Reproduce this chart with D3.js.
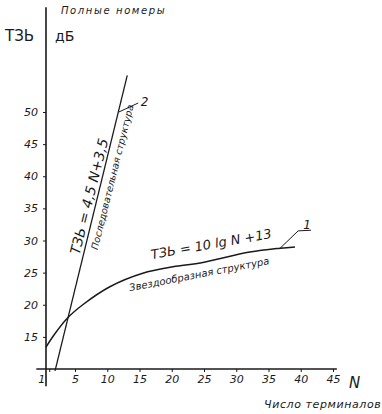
<!DOCTYPE html>
<html>
<head>
<meta charset="utf-8">
<script src="https://cdn.jsdelivr.net/npm/d3@7"></script>
<style>
  body { margin: 0; background: #fff; }
  text { font-family: "DejaVu Sans", sans-serif; font-style: italic; fill: #1a1a1a; }
</style>
</head>
<body>
<div id="chart"></div>
<script>
// data
let X_TICKS = [1, 5, 10, 15, 20, 25, 30, 35, 40, 45]
let Y_TICKS = [15, 20, 25, 30, 35, 40, 45, 50]

// curve 1: star-shaped structure
let STAR_N = [0.5, 1.6, 3.8, 6.2, 10.4, 15.5, 20.2, 24.4, 32.1, 36.8, 39.1]
let STAR_T = [13.4, 15.1, 17.9, 20.0, 22.8, 24.9, 25.9, 26.5, 28.2, 28.8, 29.0]

// line 2: sequential structure
let SEQ_N = [1.9, 13.1]
let SEQ_T = [9.7, 55.7]

let width = 382, height = 414

let svg = d3.select("#chart")
    .append("svg")
    .attr("width", width)
    .attr("height", height)

let x = d3.scaleLinear().domain([0.5, 45]).range([46, 333])
let y = d3.scaleLinear().domain([10, 50]).range([369, 112])

let ink = "#1a1a1a"

// axis lines (drawn a bit past the plot, like on paper)
svg.append("line")
    .attr("x1", x(0.5)).attr("x2", x(0.5))
    .attr("y1", y(66.3)).attr("y2", y(7.3))
    .attr("stroke", ink).attr("stroke-width", 1.6)
svg.append("line")
    .attr("x1", x(-1)).attr("x2", x(45.6))
    .attr("y1", y(10)).attr("y2", y(10))
    .attr("stroke", ink).attr("stroke-width", 1.4)

// x ticks
let xAxis = svg.append("g")
    .attr("transform", "translate(0," + y(10) + ")")
    .call(d3.axisBottom(x).tickValues(X_TICKS).tickSize(3).tickSizeOuter(0))
xAxis.select(".domain").remove()
xAxis.selectAll("line").attr("stroke", ink)
xAxis.selectAll("text")
    .style("font-size", "11px")
    .attr("y", 6)
    .attr("dx", function (d) { return d == 1 ? -8 : 0 })

// y ticks
let yAxis = svg.append("g")
    .attr("transform", "translate(" + x(0.5) + ",0)")
    .call(d3.axisLeft(y).tickValues(Y_TICKS).tickSize(3).tickSizeOuter(0))
yAxis.select(".domain").remove()
yAxis.selectAll("line").attr("stroke", ink)
yAxis.selectAll("text")
    .style("font-size", "11px")
    .attr("x", -8)

// curves
let line = d3.line()
    .x(function (d) { return x(d[0]) })
    .y(function (d) { return y(d[1]) })
    .curve(d3.curveCatmullRom)

svg.append("path")
    .attr("d", line(STAR_N.map(function (n, i) { return [n, STAR_T[i]] })))
    .attr("fill", "none").attr("stroke", ink).attr("stroke-width", 1.5)

svg.append("path")
    .attr("d", line(SEQ_N.map(function (n, i) { return [n, SEQ_T[i]] })))
    .attr("fill", "none").attr("stroke", ink).attr("stroke-width", 1.3)

// leaders and curve numbers
let leaders = [
    { p: [[36.8, 28.8], [39.6, 31.5], [41.6, 31.6]], label: "1", at: [40.4, 31.8] },
    { p: [[11.8, 50], [14.8, 51.4]], label: "2", at: [15.2, 50.9] }
]
leaders.forEach(function (l) {
    svg.append("path")
        .attr("d", d3.line().x(function (d) { return x(d[0]) }).y(function (d) { return y(d[1]) })(l.p))
        .attr("fill", "none").attr("stroke", ink).attr("stroke-width", 1)
    svg.append("text")
        .attr("x", x(l.at[0])).attr("y", y(l.at[1]))
        .style("font-size", "12px")
        .text(l.label)
})

// formulas along the lines
svg.append("text")
    .attr("transform", "translate(" + x(5.7) + "," + y(27.7) + ") rotate(-76)")
    .style("font-size", "14px")
    .text("ТЗЬ = 4,5 N+3,5")
svg.append("text")
    .attr("transform", "translate(" + x(8.5) + "," + y(28.5) + ") rotate(-76)")
    .style("font-size", "9.5px")
    .text("Последовательная структура")

svg.append("text")
    .attr("transform", "translate(" + x(16.9) + "," + y(27.1) + ") rotate(-10)")
    .style("font-size", "13px")
    .text("ТЗЬ = 10 lg N +13")
svg.append("text")
    .attr("transform", "translate(" + x(13.5) + "," + y(22.1) + ") rotate(-11)")
    .style("font-size", "10px")
    .text("Звездообразная структура")

// titles
svg.append("text").attr("x", 61).attr("y", 14)
    .style("font-size", "10px").style("letter-spacing", "1.6px")
    .text("Полные номеры")
svg.append("text").attr("x", 5).attr("y", 41)
    .style("font-size", "15px").style("font-style", "normal")
    .text("ТЗЬ")
svg.append("text").attr("x", 55).attr("y", 41)
    .style("font-size", "14px").style("font-style", "normal")
    .text("дБ")
svg.append("text").attr("x", 349).attr("y", 388)
    .style("font-size", "15px")
    .text("N")
svg.append("text").attr("x", 264).attr("y", 408)
    .style("font-size", "11px").style("letter-spacing", "0.6px")
    .text("Число терминалов")
</script>
</body>
</html>
